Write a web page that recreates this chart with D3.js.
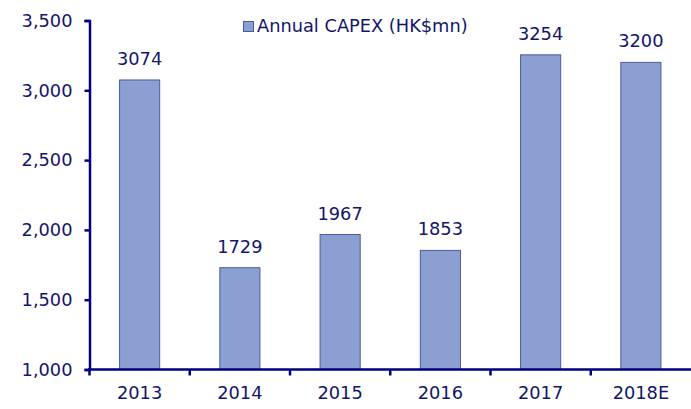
<!DOCTYPE html>
<html><head><meta charset="utf-8">
<script src="https://cdn.jsdelivr.net/npm/d3@7"></script>
<style>body{margin:0;background:#fff}svg{display:block}text{font-family:"DejaVu Sans",sans-serif;fill:#14146b}</style>
</head><body><svg id="c" width="691" height="409"></svg>
<script>
const categories = ["2013","2014","2015","2016","2017","2018E"];
const capex = [3074,1729,1967,1853,3254,3200];
const yTicks = [1000,1500,2000,2500,3000,3500];
const seriesName = "Annual CAPEX (HK$mn)";

const svg = d3.select("#c");
const fs = 17.8;
const x = d3.scaleBand().domain(categories).range([89.5, 691]).paddingInner(0.6).paddingOuter(0.3);
const xb = d3.scaleBand().domain(categories).range([89.5, 691]);
const y = d3.scaleLinear().domain([1000,3500]).range([369.5, 20.5]);
const navy = "#000080";

svg.selectAll("rect.bar").data(capex).join("rect")
  .attr("class","bar")
  .attr("x",(d,i)=>x(categories[i]))
  .attr("width",x.bandwidth())
  .attr("y",d=>y(d))
  .attr("height",d=>y(1000)-y(d))
  .attr("fill","#8b9fd2").attr("stroke","#4c5a9e").attr("stroke-width",1);

svg.selectAll("text.val").data(capex).join("text")
  .attr("class","val")
  .attr("x",(d,i)=>x(categories[i])+x.bandwidth()/2)
  .attr("y",d=>y(d)-15)
  .attr("text-anchor","middle").attr("font-size",fs)
  .text(d=>d);

const yAxis = d3.axisLeft(y).tickValues(yTicks).tickSize(5).tickPadding(12).tickFormat(d3.format(","));
const gy = svg.append("g").attr("transform","translate(89.5,0)").call(yAxis);
gy.select(".domain").attr("stroke",navy).attr("stroke-width",2.5);
gy.selectAll(".tick line").attr("stroke",navy).attr("stroke-width",2.5);
gy.selectAll(".tick text").attr("font-size",fs).attr("font-family",'"DejaVu Sans",sans-serif').attr("fill","#14146b");

const gx = svg.append("g").attr("transform","translate(0,369.5)");
gx.append("line").attr("x1",88).attr("x2",691).attr("stroke",navy).attr("stroke-width",2.5);
const bounds = categories.map(c=>xb(c));
gx.selectAll("line.tk").data(bounds).join("line").attr("class","tk")
  .attr("x1",d=>d).attr("x2",d=>d).attr("y1",0).attr("y2",6)
  .attr("stroke",navy).attr("stroke-width",2.5);
gx.selectAll("text").data(categories).join("text")
  .attr("x",d=>xb(d)+xb.bandwidth()/2).attr("y",29)
  .attr("text-anchor","middle").attr("font-size",fs).text(d=>d);

svg.append("rect").attr("x",243.5).attr("y",21.5).attr("width",10).attr("height",10)
  .attr("fill","#8b9fd2").attr("stroke","#4c5a9e");
svg.append("text").attr("x",257).attr("y",32).attr("font-size",fs).text(seriesName);
</script></body></html>
